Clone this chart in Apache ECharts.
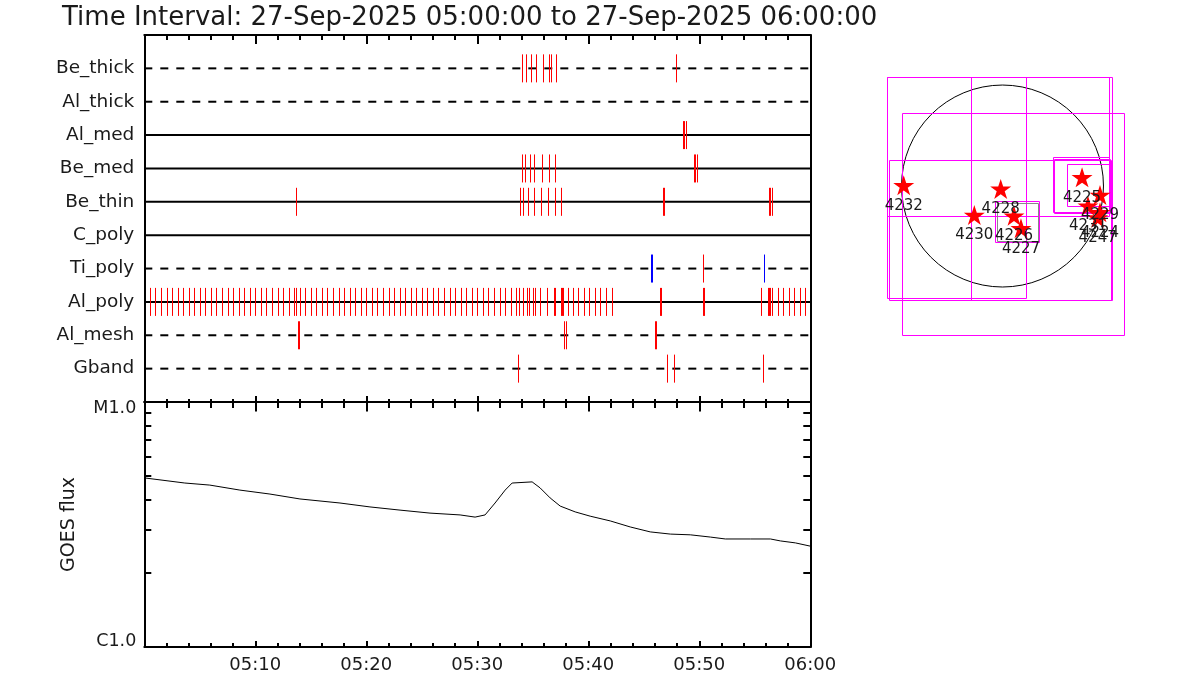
<!DOCTYPE html>
<html>
<head>
<meta charset="utf-8">
<script src="https://cdn.jsdelivr.net/npm/echarts@6/dist/echarts.min.js"></script>
<style>html,body{margin:0;padding:0;background:#fff}#c{width:1200px;height:700px}</style>
</head>
<body>
<div id="c"></div>
<script>
// ---------------- DATA ----------------
const TITLE = 'Time Interval: 27-Sep-2025 05:00:00 to 27-Sep-2025 06:00:00';
const ROW_NAMES = ['Be_thick','Al_thick','Al_med','Be_med','Be_thin','C_poly','Ti_poly','Al_poly','Al_mesh','Gband'];
// event times in minutes after 05:00
const EV_BE_THICK = [34.07, 34.40, 34.88, 35.33, 35.96, 36.50, 36.60, 37.13, 47.87];
const EV_AL_THICK = [];
const EV_AL_MED   = [48.51, 48.61, 48.83];
const EV_BE_MED   = [34.01, 34.34, 34.79, 35.15, 35.87, 36.50, 37.04, 49.48, 49.58, 49.76];
const EV_BE_THIN  = [13.63, 33.89, 34.16, 34.61, 35.15, 35.78, 36.41, 37.04, 37.58, 46.74, 46.86, 56.28, 56.38, 56.52];
const EV_C_POLY   = [];
const EV_TI_POLY  = [50.36];
const EV_TI_POLY_BLUE = [45.66, 45.78, 55.80];
const EV_AL_POLY  = [0.5, 1.0, 1.5, 2.0, 2.5, 3.0, 3.5, 4.0, 4.5, 5.0, 5.5, 6.0, 6.5, 7.0, 7.5, 8.0, 8.5, 9.0, 9.5, 10.0,
  10.5, 11.0, 11.5, 12.0, 12.5, 13.0, 13.5, 13.7, 14.0, 14.5, 15.0, 15.5, 16.0, 16.5, 17.0, 17.5, 18.0, 18.5, 19.0, 19.5,
  20.0, 20.5, 21.0, 21.5, 22.0, 22.5, 23.0, 23.5, 24.0, 24.5, 25.0, 25.5, 26.0, 26.5, 27.0, 27.5, 28.0, 28.5, 29.0, 29.5,
  30.0, 30.5, 31.0, 31.5, 32.0, 32.5, 33.0, 33.5, 33.80, 34.16, 34.52, 34.70, 35.06, 35.24, 35.69, 36.32, 36.92, 37.02,
  37.55, 37.65, 37.76, 38.19, 38.58, 39.06, 39.57, 40.08, 40.56, 41.07, 41.59, 42.13, 46.45, 46.55, 50.33, 50.43,
  55.53, 56.19, 56.29, 56.40, 56.58, 57.06, 57.57, 58.05, 58.57, 59.08, 59.56];
const EV_AL_MESH  = [13.88, 13.98, 37.85, 37.95, 46.00, 46.12];
const EV_GBAND    = [33.71, 47.05, 47.68, 55.71];
const ROW_EVENTS = [EV_BE_THICK, EV_AL_THICK, EV_AL_MED, EV_BE_MED, EV_BE_THIN, EV_C_POLY, EV_TI_POLY, EV_AL_POLY, EV_AL_MESH, EV_GBAND];

const TIME_LABELS = ['05:10', '05:20', '05:30', '05:40', '05:50', '06:00'];

// GOES flux (W/m^2), minutes after 05:00
const GOES_TIME = [0, 3.65, 5.9, 8.61, 11.32, 14.02, 17.63, 20.33, 23.04, 25.74, 28.45, 29.80, 30.70, 31.60, 32.51, 33.14,
  34.94, 35.66, 36.56, 37.47, 38.82, 40.17, 41.98, 43.78, 45.58, 47.39, 49.19, 51.0, 52.35, 54.6, 56.41, 57.31, 58.66, 60];
const GOES_FLUX = [4.90e-6, 4.67e-6, 4.58e-6, 4.37e-6, 4.21e-6, 4.02e-6, 3.87e-6, 3.73e-6, 3.62e-6, 3.52e-6, 3.46e-6,
  3.39e-6, 3.46e-6, 3.87e-6, 4.37e-6, 4.67e-6, 4.72e-6, 4.46e-6, 4.06e-6, 3.76e-6, 3.56e-6, 3.42e-6, 3.27e-6, 3.09e-6,
  2.95e-6, 2.89e-6, 2.87e-6, 2.81e-6, 2.76e-6, 2.76e-6, 2.76e-6, 2.71e-6, 2.66e-6, 2.58e-6];
const FLUX_MINOR = [2e-6, 3e-6, 4e-6, 5e-6, 6e-6, 7e-6, 8e-6, 9e-6];

// Solar map (arcsec)
const SUN_RADIUS = 957;
const AR_IDS = ['4232', '4228', '4230', '4226', '4227', '4225', '4229', '4231', '4224', '4247'];
const AR_X   = [-936, -17, -267, 109, 175, 754, 924, 810, 924, 902];
const AR_Y   = [7, -28, -275, -282, -401, 82, -85, -187, -249, -300];
const FOV_X1 = [-1092, -301, -1092, -1076, -955, 482, 491, 614, -71];
const FOV_Y1 = [1030, 1030, 1030, 246, 689, 272, 256, 206, -145];
const FOV_X2 = [223, 1031, 1012, 1031, 1145, 1012, 1019, 1031, 349];
const FOV_Y2 = [-1064, -1081, -284, -1081, -1415, -253, -259, -190, -537];
const FOV2_X1 = [-55], FOV2_Y1 = [-164], FOV2_X2 = [330], FOV2_Y2 = [-528];

// ---------------- STYLE / BUILD ----------------
const DASHED_ROWS = new Set(['Be_thick', 'Al_thick', 'Ti_poly', 'Al_mesh', 'Gband']);
const FONT = 'DejaVu Sans';
const TXT = '#1a1a1a';
const nRows = ROW_NAMES.length;
const rowY = i => nRows - i;

const chart = echarts.init(document.getElementById('c'), null, { renderer: 'canvas' });

const rowLineSeries = ROW_NAMES.map((name, i) => ({
  type: 'line', xAxisIndex: 0, yAxisIndex: 0, silent: true, symbol: 'none', z: 2,
  data: [[0, rowY(i)], [60, rowY(i)]],
  lineStyle: { color: '#000', width: 2, type: DASHED_ROWS.has(name) ? [8, 8] : 'solid' }
}));

const redEvents = [];
ROW_EVENTS.forEach((arr, i) => arr.forEach(t => redEvents.push([t, rowY(i)])));
const blueEvents = EV_TI_POLY_BLUE.map(t => [t, rowY(ROW_NAMES.indexOf('Ti_poly'))]);

function tickRenderer(color) {
  return function (params, api) {
    const p = api.coord([api.value(0), api.value(1)]);
    const h = api.size([0, 0.42])[1];
    const x = Math.round(p[0]) + 0.5;
    return { type: 'line', shape: { x1: x, y1: p[1] - h, x2: x, y2: p[1] + h },
      style: { stroke: color, lineWidth: 1 } };
  };
}

function boxRenderer(color) {
  return function (params, api) {
    const a = api.coord([api.value(0), api.value(1)]);
    const b = api.coord([api.value(2), api.value(3)]);
    const x = Math.round(Math.min(a[0], b[0])) + 0.5, y = Math.round(Math.min(a[1], b[1])) + 0.5;
    const w = Math.round(Math.abs(b[0] - a[0])), h = Math.round(Math.abs(b[1] - a[1]));
    return { type: 'rect', shape: { x, y, width: w, height: h }, style: { fill: 'none', stroke: color, lineWidth: 1 } };
  };
}

const fovData = FOV_X1.map((v, i) => [FOV_X1[i], FOV_Y1[i], FOV_X2[i], FOV_Y2[i]]);
const fov2Data = FOV2_X1.map((v, i) => [FOV2_X1[i], FOV2_Y1[i], FOV2_X2[i], FOV2_Y2[i]]);
const arData = AR_IDS.map((id, i) => [AR_X[i], AR_Y[i], id]);

const axisBase = {
  type: 'value', min: 0, max: 60, interval: 10,
  axisLine: { show: true, onZero: false, lineStyle: { color: '#000', width: 2 } },
  splitLine: { show: false },
  axisLabel: { show: false },
};
function xAx(grid, position, major, minor, labels) {
  return Object.assign({}, axisBase, {
    gridIndex: grid, position,
    axisTick: { show: true, inside: true, length: major, lineStyle: { color: '#000', width: 2 } },
    minorTick: { show: true, splitNumber: 5, length: minor, lineStyle: { color: '#000', width: 2 } },
    axisLabel: labels ? {
      show: true, margin: 9, fontFamily: FONT, fontSize: 18, color: TXT, showMinLabel: false,
      formatter: v => (v > 0 ? TIME_LABELS[Math.round(v / 10) - 1] : '')
    } : { show: false }
  });
}
const fluxAxisBase = {
  type: 'log', logBase: 10, min: 1e-6, max: 1e-5, gridIndex: 1,
  axisLine: { show: true, onZero: false, lineStyle: { color: '#000', width: 2 } },
  axisTick: { show: true, inside: true, length: 7, customValues: FLUX_MINOR, lineStyle: { color: '#000', width: 2 } },
  minorTick: { show: false }, splitLine: { show: false }
};

const option = {
  animation: false,
  backgroundColor: '#fff',
  title: { text: TITLE, left: 57, top: 0,
    textStyle: { fontFamily: FONT, fontSize: 26, fontWeight: 'normal', color: TXT } },
  grid: [
    { left: 144.3, top: 35, width: 666, height: 367 },
    { left: 144.3, top: 402, width: 666, height: 245 },
    { left: 870.6, top: 59.4, width: 263.8, height: 284.9 }
  ],
  xAxis: [
    xAx(0, 'bottom', 6, 3, false),
    xAx(0, 'top', 9, 5, false),
    xAx(1, 'top', 9.5, 6, false),
    xAx(1, 'bottom', 6, 4, true),
    { type: 'value', gridIndex: 2, min: -1250, max: 1250, show: false }
  ],
  yAxis: [
    { type: 'value', gridIndex: 0, min: 0, max: nRows + 1, interval: 1, position: 'left',
      axisLine: { show: true, onZero: false, lineStyle: { color: '#000', width: 2 } },
      axisTick: { show: false }, splitLine: { show: false },
      axisLabel: { margin: 10, fontFamily: FONT, fontSize: 18.5, color: TXT,
        formatter: v => (v >= 1 && v <= nRows ? ROW_NAMES[nRows - v] : '') } },
    { type: 'value', gridIndex: 0, min: 0, max: nRows + 1, position: 'right',
      axisLine: { show: true, onZero: false, lineStyle: { color: '#000', width: 2 } },
      axisTick: { show: false }, axisLabel: { show: false }, splitLine: { show: false } },
    Object.assign({}, fluxAxisBase, { position: 'left',
      name: 'GOES flux', nameLocation: 'middle', nameGap: 66,
      nameTextStyle: { fontFamily: FONT, fontSize: 19, color: TXT },
      axisLabel: { margin: 8, fontFamily: FONT, fontSize: 17.5, color: TXT,
        formatter: v => (v > 5e-6 ? '{t|M1.0}' : '{b|C1.0}'),
        rich: { t: { fontFamily: FONT, fontSize: 17.5, color: TXT, padding: [12, 0, 0, 0] },
                b: { fontFamily: FONT, fontSize: 17.5, color: TXT, padding: [0, 0, 12, 0] } } } }),
    Object.assign({}, fluxAxisBase, { position: 'right', axisLabel: { show: false } }),
    { type: 'value', gridIndex: 2, min: -1500, max: 1200, show: false }
  ],
  series: [
    ...rowLineSeries,
    { type: 'custom', xAxisIndex: 0, yAxisIndex: 0, z: 3, silent: true, data: redEvents, renderItem: tickRenderer('#ff0000') },
    { type: 'custom', xAxisIndex: 0, yAxisIndex: 0, z: 4, silent: true, data: blueEvents, renderItem: tickRenderer('#0000ff') },
    { type: 'line', xAxisIndex: 3, yAxisIndex: 2, silent: true, symbol: 'none', z: 3,
      data: GOES_TIME.map((t, i) => [t, GOES_FLUX[i]]),
      lineStyle: { color: '#000', width: 1 } },
    // solar disk
    { type: 'custom', xAxisIndex: 4, yAxisIndex: 4, silent: true, z: 2, clip: false,
      data: [[0, 0, SUN_RADIUS]],
      renderItem: (params, api) => {
        const c = api.coord([api.value(0), api.value(1)]);
        const r = api.size([api.value(2), 0])[0];
        return { type: 'circle', shape: { cx: c[0], cy: c[1], r }, style: { fill: 'none', stroke: '#000', lineWidth: 1 } };
      } },
    { type: 'custom', xAxisIndex: 4, yAxisIndex: 4, silent: true, z: 3, clip: false, data: fovData, renderItem: boxRenderer('#ff00ff') },
    { type: 'custom', xAxisIndex: 4, yAxisIndex: 4, silent: true, z: 3, clip: false, data: fov2Data, renderItem: boxRenderer('#888888') },
    { type: 'scatter', xAxisIndex: 4, yAxisIndex: 4, silent: true, z: 5,
      symbol: 'path://M100,0 L122.45,69.1 L195.1,69.1 L136.3,111.8 L158.8,180.9 L100,138.2 L41.2,180.9 L63.7,111.8 L4.9,69.1 L77.55,69.1 Z',
      symbolSize: [21, 20],
      itemStyle: { color: '#ff0000', opacity: 1 },
      data: arData,
      label: { show: true, position: 'bottom', distance: 3, formatter: p => p.data[2],
        fontFamily: FONT, fontSize: 15, color: TXT },
      labelLayout: { hideOverlap: false } }
  ]
};
chart.setOption(option);
</script>
</body>
</html>
